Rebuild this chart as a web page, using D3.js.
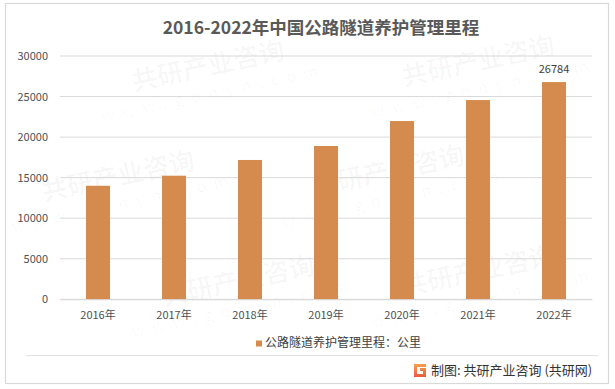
<!DOCTYPE html>
<html>
<head>
<meta charset="UTF-8">
<title>2016-2022年中国公路隧道养护管理里程</title>
<style>
  body { margin: 0; background: #fff; }
  svg { display: block; font-family: "Noto Sans CJK SC", "Noto Sans", sans-serif; }
</style>
</head>
<body>
<svg></svg>
<script src="https://d3js.org/d3.v7.min.js"></script>
<script>

let width = 615, height = 389;

// data
let years = ["2016年","2017年","2018年","2019年","2020年","2021年","2022年"];
let mileage = [14000, 15240, 17180, 18900, 21980, 24570, 26784];
let yTicks = [0, 5000, 10000, 15000, 20000, 25000, 30000];
let titleText = "2016-2022年中国公路隧道养护管理里程";
let legendText = "公路隧道养护管理里程：公里";
let sourceText = "制图: 共研产业咨询 (共研网)";

let svg = d3.select("svg")
    .attr("width", width)
    .attr("height", height);

// outer frame
svg.append("rect")
  .attr("x", 5.5).attr("y", 3.5)
  .attr("width", 603).attr("height", 380)
  .attr("fill", "#fff")
  .attr("stroke", "#d9d9d9")
  .attr("stroke-width", 1.2);

// faint watermark, kept inside the frame
let wm = svg.append("g").attr("id", "watermark");
let wmSpots = [[210,75],[480,70],[120,185],[390,180],[240,290],[480,280]];
wmSpots.forEach(p => {
  let g = wm.append("g").attr("transform", "translate(" + p[0] + "," + p[1] + ") rotate(-12)");
  g.append("text")
    .attr("text-anchor", "middle")
    .style("font-size", "26px")
    .style("font-weight", "bold")
    .attr("fill", "#000")
    .attr("fill-opacity", 0.03)
    .text("共研产业咨询");
  g.append("text")
    .attr("y", 24)
    .attr("text-anchor", "middle")
    .style("font-size", "16px")
    .style("letter-spacing", "8px")
    .attr("fill", "#000")
    .attr("fill-opacity", 0.03)
    .text("www.gonyn.com");
});

// title
svg.append("text")
  .attr("x", 321).attr("y", 34)
  .attr("text-anchor", "middle")
  .style("font-size", "17.5px")
  .style("font-weight", "bold")
  .attr("fill", "#595959")
  .text(titleText);

let x = d3.scaleBand()
  .domain(years)
  .range([60, 592])
  .paddingInner(0.684)
  .paddingOuter(0.342);

let y = d3.scaleLinear()
  .domain([0, 30000])
  .range([299.3, 56]);

// gridlines
svg.append("g")
  .selectAll("line")
  .data(yTicks)
  .enter()
  .append("line")
    .attr("x1", 60).attr("x2", 592)
    .attr("y1", d => y(d)).attr("y2", d => y(d))
    .attr("stroke", "#d9d9d9")
    .attr("stroke-width", 1);

// y axis labels
let yAxis = svg.append("g")
  .attr("transform", "translate(48,0)")
  .call(d3.axisLeft(y).tickValues(yTicks).tickSize(0).tickPadding(0).tickFormat(d3.format("d")));
yAxis.select(".domain").remove();
yAxis.selectAll("text")
  .style("font-size", "11px")
  .style("font-family", "\"Noto Sans CJK SC\", sans-serif")
  .attr("fill", "#505050");

// bars
svg.append("g")
  .selectAll("rect")
  .data(mileage)
  .enter()
  .append("rect")
    .attr("x", (d, i) => x(years[i]))
    .attr("y", d => y(d))
    .attr("width", x.bandwidth())
    .attr("height", d => y(0) - y(d))
    .attr("fill", "#d48b4d");

// value label on last bar
let last = mileage.length - 1;
svg.append("text")
  .attr("x", x(years[last]) + x.bandwidth() / 2)
  .attr("y", y(mileage[last]) - 9)
  .attr("text-anchor", "middle")
  .style("font-size", "11px")
  .attr("fill", "#404040")
  .text(mileage[last]);

// x axis
let xAxis = svg.append("g")
  .attr("transform", "translate(0," + y(0) + ")")
  .call(d3.axisBottom(x).tickSize(0).tickPadding(12));
xAxis.select(".domain").attr("stroke", "#d9d9d9");
xAxis.selectAll("text")
  .style("font-size", "11px")
  .style("font-family", "\"Noto Sans CJK SC\", sans-serif")
  .attr("fill", "#505050");

// legend
svg.append("rect")
  .attr("x", 256).attr("y", 340.5)
  .attr("width", 6).attr("height", 6)
  .attr("fill", "#d48b4d");
svg.append("text")
  .attr("x", 265).attr("y", 343.5)
  .attr("dominant-baseline", "middle")
  .style("font-size", "12px")
  .attr("fill", "#404040")
  .text(legendText);

// separator
svg.append("line")
  .attr("x1", 26).attr("x2", 598)
  .attr("y1", 355.5).attr("y2", 355.5)
  .attr("stroke", "#e0e0e0");

// source logo
let grad = svg.append("defs").append("linearGradient")
  .attr("id", "logoGrad").attr("x1", 0).attr("y1", 0).attr("x2", 0).attr("y2", 1);
grad.append("stop").attr("offset", "0%").attr("stop-color", "#f6a04d");
grad.append("stop").attr("offset", "100%").attr("stop-color", "#ec5a3d");
svg.append("path")
  .attr("d", "M414,364 h12 v3 h-9 v7 h6 v-3 h-3 v-3 h6 v9 h-12 z")
  .attr("fill", "url(#logoGrad)");

svg.append("text")
  .attr("x", 431).attr("y", 371)
  .attr("dominant-baseline", "middle")
  .style("font-size", "13px")
  .attr("fill", "#333")
  .text(sourceText);

</script>
</body>
</html>
